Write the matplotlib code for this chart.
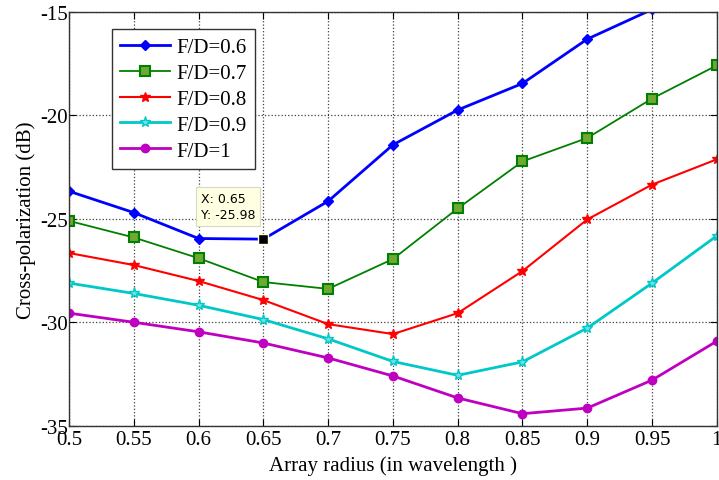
import numpy as np
import matplotlib.pyplot as plt

# array radius (in wavelength)
radius = [0.5, 0.55, 0.6, 0.65, 0.7, 0.75, 0.8, 0.85, 0.9, 0.95, 1.0]

# cross-polarization (dB) for each F/D
fd06 = [-23.67, -24.70, -25.95, -25.98, -24.15, -21.43, -19.75, -18.47, -16.33, -14.90, -13.80]
fd07 = [-25.10, -25.90, -26.90, -28.05, -28.38, -26.94, -24.50, -22.23, -21.10, -19.20, -17.60]
fd08 = [-26.65, -27.23, -28.00, -28.92, -30.08, -30.56, -29.55, -27.52, -25.03, -23.35, -22.13]
fd09 = [-28.10, -28.60, -29.17, -29.86, -30.79, -31.88, -32.55, -31.90, -30.27, -28.10, -25.82]
fd10 = [-29.55, -29.99, -30.45, -30.99, -31.71, -32.58, -33.64, -34.40, -34.13, -32.78, -30.90]

tip_index = 3

plt.rcParams['font.family'] = ['Liberation Serif', 'DejaVu Serif']
plt.rcParams['axes.unicode_minus'] = False

fig = plt.figure(figsize=(7.19, 4.81), dpi=100)
ax = fig.add_axes([0.096, 0.112, 0.901, 0.862])

ax.plot(radius, fd06, color='blue', lw=2.0, marker='D', ms=5, mfc='blue', mec='blue', label='F/D=0.6')
ax.plot(radius, fd07, color='green', lw=1.3, marker='s', ms=7, mfc='#6fa832', mec='green', mew=1.5, label='F/D=0.7')
ax.plot(radius, fd08, color='red', lw=1.5, marker='*', ms=7, mfc='red', mec='red', label='F/D=0.8')
ax.plot(radius, fd09, color='#00c8c8', lw=2.0, marker='*', ms=8, mfc='#70e0e0', mec='#00c8c8', mew=1.0, label='F/D=0.9')
ax.plot(radius, fd10, color='#c000c0', lw=2.0, marker='o', ms=6, mfc='#c000c0', mec='#c000c0', label='F/D=1')

# data tip
ax.plot(radius[tip_index], fd06[tip_index], marker='s', ms=7, color='black', mec='#ffffe1', mew=1.0, zorder=5)
ax.annotate('X: %.2f\nY: %.2f' % (radius[tip_index], fd06[tip_index]),
            xy=(radius[tip_index], fd06[tip_index]), xytext=(-45, 13), textcoords='offset points',
            fontsize=9, family='DejaVu Sans', ha='left', va='bottom', linespacing=1.35,
            bbox=dict(boxstyle='square,pad=0.4', fc='#ffffe1', ec='#d8d8c8', lw=0.8), zorder=6)

ax.set_xlim(0.5, 1.0)
ax.set_ylim(-35, -15)
ax.set_xticks(np.arange(0.5, 1.001, 0.05))
ax.set_xticklabels(['0.5', '0.55', '0.6', '0.65', '0.7', '0.75', '0.8', '0.85', '0.9', '0.95', '1'])
ax.set_yticks([-35, -30, -25, -20, -15])
ax.tick_params(direction='in', labelsize=15, length=5, top=True, right=True, pad=1)
ax.tick_params(axis='x', pad=3)
ax.grid(True, linestyle=':', color='#404040', lw=0.9)
for s in ax.spines.values():
    s.set_color('#333333')
    s.set_linewidth(1.0)

ax.set_xlabel('Array radius (in wavelength )', fontsize=15, labelpad=4)
ax.set_ylabel('Cross-polarization (dB)', fontsize=15, labelpad=3)

leg = ax.legend(loc='upper left', bbox_to_anchor=(0.066, 0.957), borderaxespad=0, fontsize=15,
                handlelength=2.4, handletextpad=0.3, borderpad=0.4, labelspacing=0.3,
                fancybox=False, framealpha=1)
leg.get_frame().set_edgecolor('#333333')
leg.get_frame().set_linewidth(1.0)

fig.savefig('out.png', dpi=100)
